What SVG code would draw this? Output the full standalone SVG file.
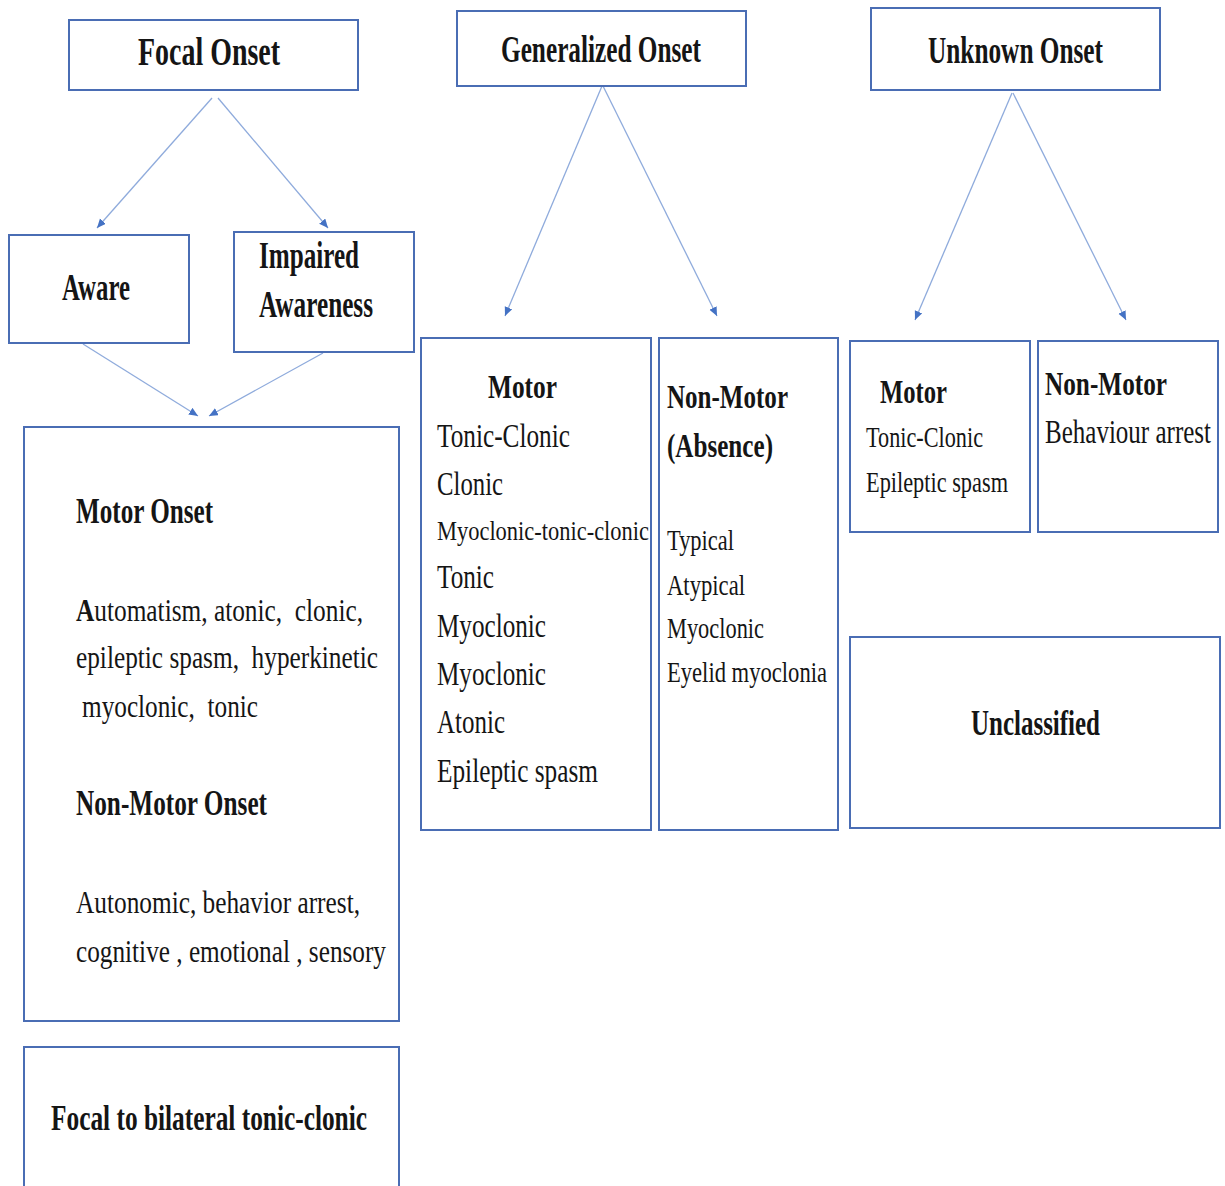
<svg xmlns="http://www.w3.org/2000/svg" width="1225" height="1186" viewBox="0 0 1225 1186">
<style>
.box{fill:#fff;stroke:#4a6db4;stroke-width:2}
.t{font-family:"Liberation Serif","Times New Roman",serif;fill:#151515}
.b{font-weight:bold}
.conn{stroke:#8fabdc;stroke-width:1.3;fill:none}
</style>
<defs>
<marker id="ah" markerUnits="userSpaceOnUse" markerWidth="10" markerHeight="10" refX="9" refY="4" orient="auto">
<path d="M0,0 L9,4 L0,8 Z" fill="#4472c4"/>
</marker>
</defs>
<rect width="1225" height="1186" fill="#fff"/>
<g id="connectors">
<line class="conn" x1="212" y1="98" x2="97" y2="228" marker-end="url(#ah)"/>
<line class="conn" x1="218" y1="98" x2="328" y2="228" marker-end="url(#ah)"/>
<line class="conn" x1="83" y1="344" x2="198" y2="416" marker-end="url(#ah)"/>
<line class="conn" x1="323" y1="353" x2="209" y2="416" marker-end="url(#ah)"/>
<line class="conn" x1="602" y1="86" x2="505" y2="316" marker-end="url(#ah)"/>
<line class="conn" x1="603" y1="86" x2="717" y2="316" marker-end="url(#ah)"/>
<line class="conn" x1="1012" y1="93" x2="915" y2="320" marker-end="url(#ah)"/>
<line class="conn" x1="1013" y1="93" x2="1126" y2="320" marker-end="url(#ah)"/>
</g>
<g id="focal-onset">
<rect class="box" x="69" y="20" width="289" height="70"/>
<text class="t b" x="138" y="65" font-size="40" textLength="142" lengthAdjust="spacingAndGlyphs">Focal Onset</text>
</g>
<g id="generalized-onset">
<rect class="box" x="457" y="11" width="289" height="75"/>
<text class="t b" x="501" y="62" font-size="38" textLength="200" lengthAdjust="spacingAndGlyphs">Generalized Onset</text>
</g>
<g id="unknown-onset">
<rect class="box" x="871" y="8" width="289" height="82"/>
<text class="t b" x="928" y="63" font-size="38" textLength="175" lengthAdjust="spacingAndGlyphs">Unknown Onset</text>
</g>
<g id="aware">
<rect class="box" x="9" y="235" width="180" height="108"/>
<text class="t b" x="62" y="300" font-size="38" textLength="68" lengthAdjust="spacingAndGlyphs">Aware</text>
</g>
<g id="impaired-awareness">
<rect class="box" x="234" y="232" width="180" height="120"/>
<text class="t b" x="259" y="268" font-size="38" textLength="100" lengthAdjust="spacingAndGlyphs">Impaired</text>
<text class="t b" x="259" y="317" font-size="38" textLength="114" lengthAdjust="spacingAndGlyphs">Awareness</text>
</g>
<g id="focal-types">
<rect class="box" x="24" y="427" width="375" height="594"/>
<text class="t b" x="76" y="523" font-size="36" textLength="137" lengthAdjust="spacingAndGlyphs">Motor Onset</text>
<text class="t" x="76" y="621" font-size="32" textLength="287" lengthAdjust="spacingAndGlyphs" xml:space="preserve"><tspan class="b">A</tspan>utomatism, atonic,  clonic,</text>
<text class="t" x="76" y="668" font-size="32" textLength="302" lengthAdjust="spacingAndGlyphs" xml:space="preserve">epileptic spasm,  hyperkinetic</text>
<text class="t" x="82" y="717" font-size="32" textLength="176" lengthAdjust="spacingAndGlyphs" xml:space="preserve">myoclonic,  tonic</text>
<text class="t b" x="76" y="815" font-size="36" textLength="191" lengthAdjust="spacingAndGlyphs">Non-Motor Onset</text>
<text class="t" x="76" y="913" font-size="32" textLength="284" lengthAdjust="spacingAndGlyphs">Autonomic, behavior arrest,</text>
<text class="t" x="76" y="962" font-size="32" textLength="310" lengthAdjust="spacingAndGlyphs">cognitive , emotional , sensory</text>
</g>
<g id="focal-bilateral">
<rect class="box" x="24" y="1047" width="375" height="160"/>
<text class="t b" x="51" y="1130" font-size="36" textLength="316" lengthAdjust="spacingAndGlyphs">Focal to bilateral tonic-clonic</text>
</g>
<g id="generalized-motor">
<rect class="box" x="421" y="338" width="230" height="492"/>
<text class="t b" x="488" y="398" font-size="33" textLength="69" lengthAdjust="spacingAndGlyphs">Motor</text>
<text class="t" x="437" y="447" font-size="34" textLength="133" lengthAdjust="spacingAndGlyphs">Tonic-Clonic</text>
<text class="t" x="437" y="495" font-size="34" textLength="66" lengthAdjust="spacingAndGlyphs">Clonic</text>
<text class="t" x="437" y="540" font-size="27" textLength="212" lengthAdjust="spacingAndGlyphs">Myoclonic-tonic-clonic</text>
<text class="t" x="437" y="588" font-size="34" textLength="57" lengthAdjust="spacingAndGlyphs">Tonic</text>
<text class="t" x="437" y="637" font-size="34" textLength="109" lengthAdjust="spacingAndGlyphs">Myoclonic</text>
<text class="t" x="437" y="685" font-size="34" textLength="109" lengthAdjust="spacingAndGlyphs">Myoclonic</text>
<text class="t" x="437" y="733" font-size="34" textLength="68" lengthAdjust="spacingAndGlyphs">Atonic</text>
<text class="t" x="437" y="782" font-size="34" textLength="161" lengthAdjust="spacingAndGlyphs">Epileptic spasm</text>
</g>
<g id="generalized-nonmotor">
<rect class="box" x="659" y="338" width="179" height="492"/>
<text class="t b" x="667" y="408" font-size="33" textLength="121" lengthAdjust="spacingAndGlyphs">Non-Motor</text>
<text class="t b" x="667" y="457" font-size="33" textLength="106" lengthAdjust="spacingAndGlyphs">(Absence)</text>
<text class="t" x="667" y="550" font-size="29" textLength="67" lengthAdjust="spacingAndGlyphs">Typical</text>
<text class="t" x="667" y="595" font-size="29" textLength="78" lengthAdjust="spacingAndGlyphs">Atypical</text>
<text class="t" x="667" y="638" font-size="29" textLength="97" lengthAdjust="spacingAndGlyphs">Myoclonic</text>
<text class="t" x="667" y="682" font-size="29" textLength="160" lengthAdjust="spacingAndGlyphs">Eyelid myoclonia</text>
</g>
<g id="unknown-motor">
<rect class="box" x="850" y="341" width="180" height="191"/>
<text class="t b" x="880" y="403" font-size="33" textLength="67" lengthAdjust="spacingAndGlyphs">Motor</text>
<text class="t" x="866" y="447" font-size="29" textLength="117" lengthAdjust="spacingAndGlyphs">Tonic-Clonic</text>
<text class="t" x="866" y="492" font-size="29" textLength="142" lengthAdjust="spacingAndGlyphs">Epileptic spasm</text>
</g>
<g id="unknown-nonmotor">
<rect class="box" x="1038" y="341" width="180" height="191"/>
<text class="t b" x="1045" y="395" font-size="33" textLength="122" lengthAdjust="spacingAndGlyphs">Non-Motor</text>
<text class="t" x="1045" y="443" font-size="33" textLength="166" lengthAdjust="spacingAndGlyphs">Behaviour arrest</text>
</g>
<g id="unclassified">
<rect class="box" x="850" y="637" width="370" height="191"/>
<text class="t b" x="971" y="735" font-size="36" textLength="129" lengthAdjust="spacingAndGlyphs">Unclassified</text>
</g>
</svg>
